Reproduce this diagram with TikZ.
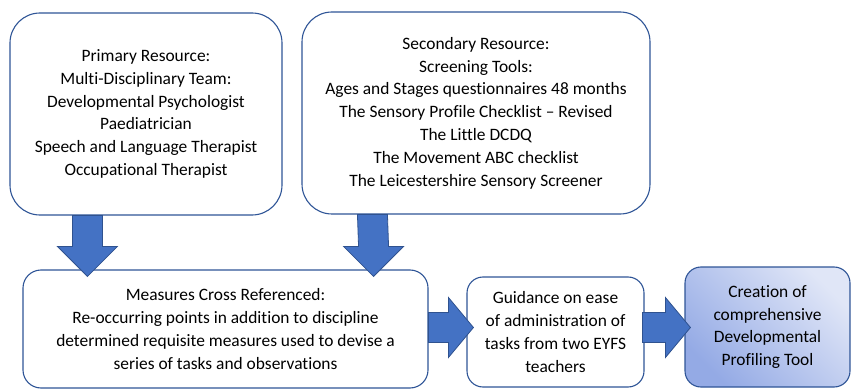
\documentclass[tikz,border=0pt]{standalone}
\usepackage{fontspec}
\setmainfont{Carlito}[Ligatures={TeX,NoCommon}]
\usetikzlibrary{calc,positioning}
\definecolor{boxline}{RGB}{47,85,151}
\definecolor{arrowfill}{RGB}{68,114,196}
\definecolor{arrowline}{RGB}{47,82,143}
\definecolor{toollight}{RGB}{224,230,247}
\definecolor{tooldark}{RGB}{148,170,229}
\tikzset{
    basic/.style   = {draw=boxline, line width=1.1pt, rectangle, align=center,
                      font=\fontsize{17.4}{22.8}\selectfont, inner sep=0pt},
    resource/.style = {basic, rounded corners=30pt, fill=white},
    stage/.style    = {basic, rounded corners=18pt, fill=white},
    result/.style   = {basic, rounded corners=16pt, shade,
                       top color=toollight, bottom color=tooldark, shading angle=-45},
    fat arrow/.style = {fill=arrowfill, draw=arrowline, line width=0.8pt, line join=miter}
}
% block arrows: #1 = tail, #2 = tip
\newcommand\bigarrowdown[2]{%
    \draw[fat arrow] ($(#1)+(-15,0)$) -- ($(#2)+(-15,-30)$) -- ($(#2)+(-30,-30)$) -- (#2)
        -- ($(#2)+(30,-30)$) -- ($(#2)+(15,-30)$) -- ($(#1)+(15,0)$) -- cycle;}
\newcommand\bigarrowright[2]{%
    \draw[fat arrow] ($(#1)+(0,-15)$) -- ($(#2)+(-25,-15)$) -- ($(#2)+(-25,-30)$) -- (#2)
        -- ($(#2)+(-25,30)$) -- ($(#2)+(-25,15)$) -- ($(#1)+(0,15)$) -- cycle;}

\begin{document}
\begin{tikzpicture}[x=1pt,y=-1pt]
    \useasboundingbox (0,0) rectangle (851,390);

    % the two sources
    \node[resource, minimum width=272pt, minimum height=202pt] (prim) at (146,114)
        {Primary Resource:\\ Multi-Disciplinary Team:\\ Developmental Psychologist\\
         Paediatrician\\ Speech and Language Therapist\\ Occupational Therapist};
    \node[resource, minimum width=348pt, minimum height=202pt] (sec) at (476,113)
        {Secondary Resource:\\ Screening Tools:\\ Ages and Stages questionnaires 48 months\\
         The Sensory Profile Checklist -- Revised\\ The Little DCDQ\\
         The Movement ABC checklist\\ The Leicestershire Sensory Screener};

    % bottom row
    \node[stage, minimum width=405pt, minimum height=118pt] (meas) at (225.5,329)
        {Measures Cross Referenced:\\ Re-occurring points in addition to discipline\\
         determined requisite measures used to devise a\\ series of tasks and observations};
    \node[stage, rounded corners=16pt, minimum width=177pt, minimum height=110pt] (guide) at (555.5,332)
        {Guidance on ease\\ of administration of\\ tasks from two EYFS\\ teachers};
    \node[result, minimum width=165pt, minimum height=120pt] (tool) at (767.5,327)
        {Creation of\\ comprehensive\\ Developmental\\ Profiling Tool};

    % arrows
    \coordinate (t1) at ($(prim.south west)+(78,0)$);
    \coordinate (h1) at ($(meas.north west)+(65,7)$);
    \coordinate (t2) at ($(sec.south west)+(71,0)$);
    \coordinate (h2) at ($(meas.north east)+(-55,7)$);
    \coordinate (t3) at ($(meas.east)+(0,-1.5)$);
    \coordinate (h3) at ($(guide.west)+(7,-4.5)$);
    \coordinate (t4) at ($(guide.east)+(-2,-4.5)$);
    \coordinate (h4) at ($(tool.west)+(6,0.5)$);
    \bigarrowdown{t1}{h1}
    \bigarrowdown{t2}{h2}
    \bigarrowright{t3}{h3}
    \bigarrowright{t4}{h4}
\end{tikzpicture}
\end{document}
